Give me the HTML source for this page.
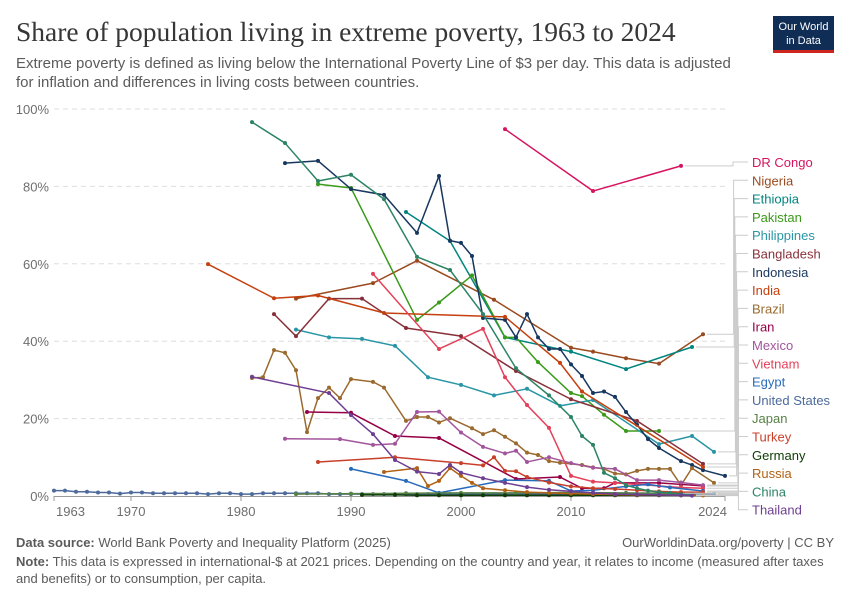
<!DOCTYPE html>
<html><head><meta charset="utf-8"><style>
body{margin:0;background:#fff;}
svg{display:block;font-family:"Liberation Sans",sans-serif;}
</style></head><body>
<svg id="chart" width="850" height="600" viewBox="0 0 850 600" xmlns="http://www.w3.org/2000/svg">
<text x="16" y="41" font-family="Liberation Serif, serif" font-size="27.5" fill="#363636">Share of population living in extreme poverty, 1963 to 2024</text>
<text x="16" y="68" font-size="15" fill="#5b5b5b">Extreme poverty is defined as living below the International Poverty Line of $3 per day. This data is adjusted</text>
<text x="16" y="87" font-size="15" fill="#5b5b5b">for inflation and differences in living costs between countries.</text>
<g>
<rect x="773" y="16" width="61" height="34" fill="#0f2d55"/>
<rect x="773" y="50" width="61" height="3" fill="#ce261e"/>
<text x="803.5" y="30" font-size="11" fill="#fff" text-anchor="middle">Our World</text>
<text x="803.5" y="44" font-size="11" fill="#fff" text-anchor="middle">in Data</text>
</g>
<g id="grid"></g>
<g id="series"></g>
<g id="labels"></g>
<text x="16" y="547" font-size="13" fill="#5b5b5b"><tspan font-weight="bold">Data source:</tspan> World Bank Poverty and Inequality Platform (2025)</text>
<text x="834" y="547" font-size="13" fill="#5b5b5b" text-anchor="end">OurWorldinData.org/poverty | CC BY</text>
<text x="16" y="566" font-size="13" fill="#5b5b5b"><tspan font-weight="bold">Note:</tspan> This data is expressed in international-$ at 2021 prices. Depending on the country and year, it relates to income (measured after taxes</text>
<text x="16" y="583" font-size="13" fill="#5b5b5b">and benefits) or to consumption, per capita.</text>
</svg>
<script>
const yTicks=[0,20,40,60,80,100];
const xTicks=[1963,1970,1980,1990,2000,2010,2024];
const names=["DR Congo","Nigeria","Ethiopia","Pakistan","Philippines","Bangladesh","Indonesia","India","Brazil","Iran","Mexico","Vietnam","Egypt","United States","Japan","Turkey","Germany","Russia","China","Thailand"];
const colors=["#d6135f","#9a4a1f","#00857f","#3a9a1a","#2996a6","#883039","#18375f","#c5400e","#9a6a2f","#970046","#a2559c","#e5405a","#286bbb","#4c6a9c","#578145","#c8402a","#0e3d05","#b16214","#2c8465","#6d3e91"];
const years=[
[2004,2012,2020],
[1985,1992,1996,2003,2010,2012,2015,2018,2022],
[1995,1999,2004,2010,2015,2021],
[1987,1990,1996,1998,2001,2004,2005,2007,2010,2011,2013,2015,2018],
[1985,1988,1991,1994,1997,2000,2003,2006,2009,2012,2018,2021,2023],
[1983,1985,1988,1991,1995,2000,2005,2010,2016,2022],
[1984,1987,1990,1993,1996,1998,1999,2000,2001,2002,2004,2005,2006,2007,2008,2009,2010,2011,2012,2013,2014,2015,2016,2017,2018,2020,2021,2022,2024],
[1977,1983,1987,1993,2004,2009,2011,2022],
[1981,1982,1983,1984,1985,1986,1987,1988,1989,1990,1992,1993,1995,1996,1997,1998,1999,2001,2002,2003,2004,2005,2006,2007,2008,2009,2011,2012,2013,2014,2015,2016,2017,2018,2019,2020,2021,2023],
[1986,1990,1994,1998,2005,2009,2011,2013,2014,2018,2022],
[1984,1989,1992,1994,1996,1998,2000,2002,2004,2005,2006,2008,2010,2012,2014,2016,2018,2020,2022],
[1992,1998,2002,2004,2006,2008,2010,2012,2014,2016,2018,2020,2022],
[1990,1995,1998,2004,2008,2010,2012,2015,2017,2019,2022],
[1963,1964,1965,1966,1967,1968,1969,1970,1971,1972,1973,1974,1975,1976,1977,1978,1979,1980,1981,1982,1983,1984,1985,1986,1987,1988,1989,1990,1991,1992,1993,1994,1995,1996,1997,1998,1999,2000,2001,2002,2003,2004,2005,2006,2007,2008,2009,2010,2011,2012,2013,2014,2015,2016,2017,2018,2019,2020,2021,2022,2023],
[1985,1990,1995,2000,2005,2010,2015,2020],
[1987,1994,2000,2002,2003,2004,2005,2006,2008,2010,2012,2014,2016,2018,2020,2022],
[1991,1994,1996,1998,2000,2002,2004,2006,2008,2010,2012,2014,2016,2018,2020,2022],
[1993,1996,1997,1998,1999,2000,2001,2002,2004,2006,2008,2010,2012,2014,2016,2018,2020,2022],
[1981,1984,1987,1990,1993,1996,1999,2002,2005,2008,2010,2011,2012,2013,2014,2015,2016,2017,2018,2019,2020,2021],
[1981,1988,1990,1992,1994,1996,1998,1999,2000,2002,2004,2006,2008,2010,2012,2014,2016,2018,2020,2021]
];
const values=[
[94.8,78.8,85.3],
[51,55,60.8,50.7,38.3,37.3,35.6,34.2,41.8],
[73.4,65.9,41,37.3,32.8,38.5],
[80.6,79.6,45.5,50,57,41,41,34.6,26.6,25.8,21,16.8,16.8],
[43,41,40.6,38.8,30.7,28.7,26,27.7,23.3,24.8,13.4,15.5,11.4],
[47,41.3,51,51,43.4,41.3,32.3,25,19.4,8.3],
[86,86.6,79.3,77.8,68,82.7,66,65.4,62,46,45.5,41,47,41,38,38,34,31,26.6,27,25.6,21.7,18.4,14.7,12.4,9,8,6.7,5.2],
[59.9,51.1,51.8,47.3,46.3,34.4,27,7.5],
[30.5,30.7,37.7,37,32.5,16.5,25.3,28,25.3,30.2,29.5,28,19.4,20.4,20.4,19,20.1,17.5,16,17,15.3,13.6,11.2,10.6,9,8.6,8,7.4,7,5.8,5.6,6.5,7,7,7,2.8,7.2,3.4],
[21.7,21.5,15.5,15,4.4,4.9,2,2,3.4,3.4,2.6],
[14.8,14.7,13.2,13.5,21.7,21.8,16.4,12.7,11,11.7,8.8,10,8.5,7.3,7,4.1,4.1,3.5,2.8],
[57.4,38,43.2,30.7,23.5,17.6,5.2,3.7,3.4,3,2.6,2.2,2],
[7,3.9,0.8,4.1,3.9,1.3,1.5,2.5,3,2.2,1.3],
[1.4,1.4,1.1,1.1,0.9,0.9,0.6,0.9,0.9,0.7,0.7,0.7,0.7,0.7,0.5,0.7,0.7,0.5,0.5,0.7,0.7,0.7,0.7,0.7,0.7,0.5,0.5,0.5,0.5,0.5,0.5,0.5,0.5,0.5,0.5,0.5,0.5,0.5,0.5,0.5,0.5,0.5,0.5,0.5,0.5,0.5,0.5,0.5,0.5,0.5,0.5,0.5,0.5,0.5,0.5,0.5,0.5,0.5,0.5,0.5,0.5],
[0.5,0.6,0.7,0.8,0.8,0.9,0.8,0.7],
[8.8,10,8.5,7.9,10,6.5,6.4,4.9,3.5,2.5,2,1.8,1.5,1.2,1,1],
[0.3,0.3,0.2,0.2,0.2,0.2,0.2,0.2,0.2,0.2,0.2,0.2,0.2,0.2,0.2,0.2],
[6.2,7.2,2.6,3.9,7.2,5.2,3.4,2,1.5,1,0.8,0.6,0.5,0.4,0.3,0.3,0.2,0.2],
[96.6,91.2,81.4,83,76.7,61.8,58.4,47,33,26,20.4,15.5,13.2,6,4.6,2.8,2,1.4,1,0.8,0.5,0.3],
[30.8,26.6,20.9,16,9.3,6.3,5.7,8,6,4.6,3.4,2.3,1.6,1.2,0.8,0.5,0.4,0.3,0.2,0.1]
];
const NS="http://www.w3.org/2000/svg";
const X0=54,YEAR0=1963,PXY=11,Y0=496,PXP=3.87;
function xs(yr){return X0+(yr-YEAR0)*PXY;}
function ys(v){return Y0-v*PXP;}
function mk(t,a,p){const e=document.createElementNS(NS,t);for(const k in a)e.setAttribute(k,a[k]);p.appendChild(e);return e;}
const grid=document.getElementById('grid');
yTicks.forEach(v=>{
  const y=ys(v);
  if(v>0){const l=mk('line',{x1:54,x2:725,y1:y,y2:y,stroke:'#ddd','stroke-dasharray':'5,4'},grid);
  
  }
  const t=mk('text',{x:49,y:y+5,'font-size':13,fill:'#6e6e6e','text-anchor':'end'},grid);
  t.textContent=v+'%';
  
  
});
const ax=mk('line',{x1:54,x2:725,y1:Y0+0.5,y2:Y0+0.5,stroke:'#999'},grid);


xTicks.forEach((yr,i)=>{
  const x=xs(yr);
  mk('line',{x1:x,x2:x,y1:Y0,y2:Y0+5,stroke:'#999'},grid);
  const anchor=i==0?'start':(i==xTicks.length-1?'end':'middle');
  const t=mk('text',{x:i==0?x+2:(i==xTicks.length-1?x+2:x),y:516,'font-size':13,fill:'#6e6e6e','text-anchor':anchor},grid);
  t.textContent=yr;
  
  
});
const sg=document.getElementById('series'),lg=document.getElementById('labels');
names.forEach((n,i)=>{
  const g=mk('g',{},sg);
  
  
  const pts=years[i].map((yr,j)=>[xs(yr),ys(values[i][j])]);
  const p=mk('polyline',{points:pts.map(q=>q.join(',')).join(' '),fill:'none',stroke:colors[i],'stroke-width':1.5,'stroke-linejoin':'round'},g);
  
  
  pts.forEach(q=>{
    const c=mk('circle',{cx:q[0],cy:q[1],r:2,fill:colors[i]},g);
    
    
  });
  const ly=162+i*18.3;
  const last=pts[pts.length-1];
  const vx=733+Math.min(i,9)*0.6;
  const con=mk('path',{d:`M${last[0]+4},${last[1]} L${vx},${last[1]} L${vx},${ly} L${748},${ly}`,fill:'none',stroke:'#ccc','stroke-width':1},lg);
  
  
  const t=mk('text',{x:752,y:ly+5,'font-size':13,fill:colors[i]},lg);
  t.textContent=n;
  
  
});
</script>
</body></html>
